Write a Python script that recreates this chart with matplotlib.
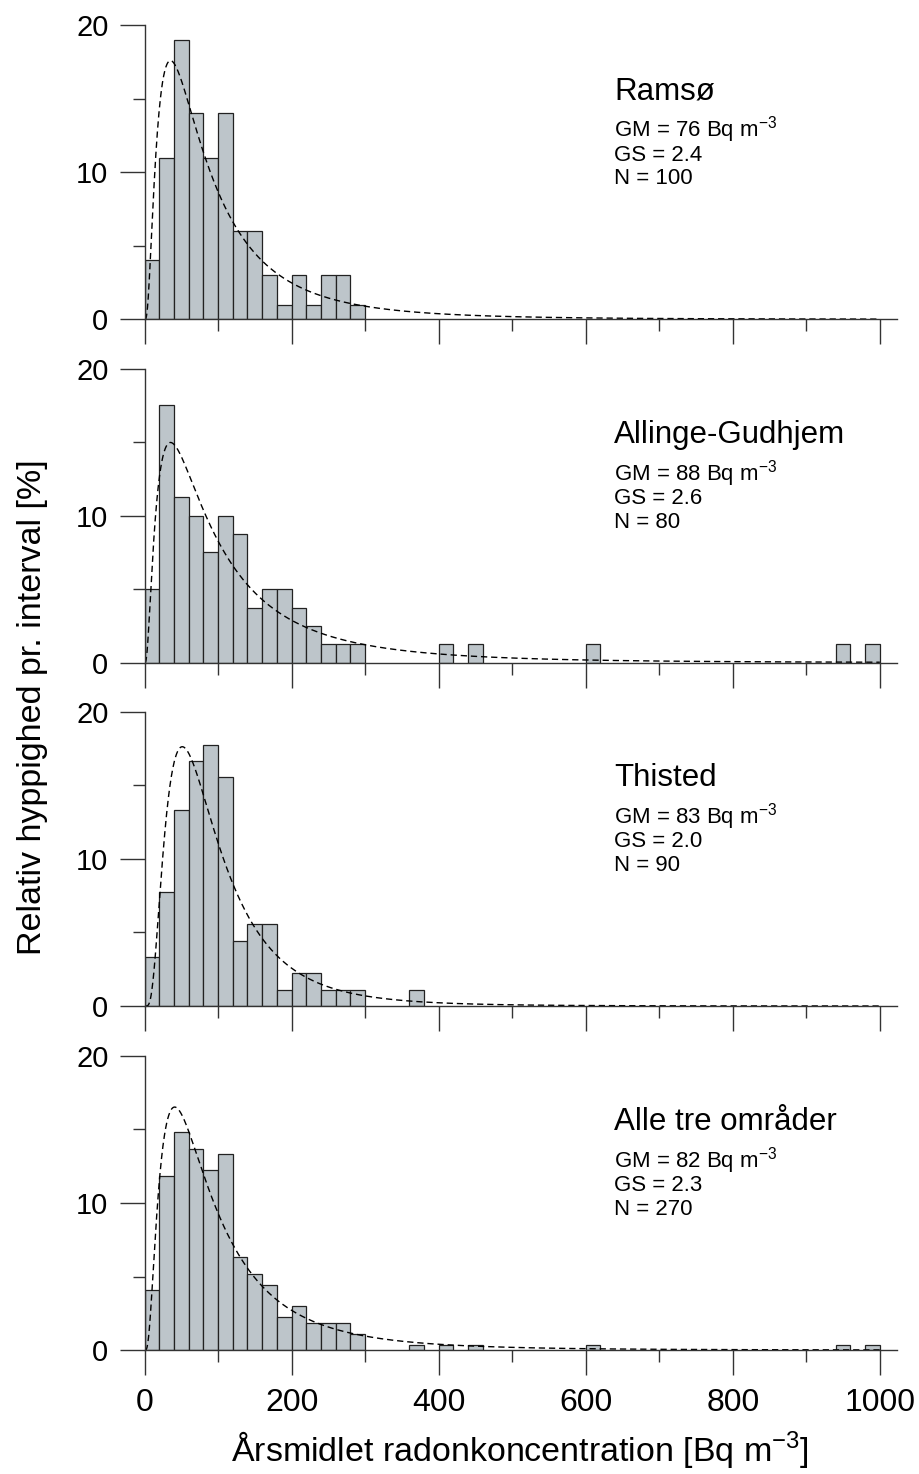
import numpy as np
import matplotlib
matplotlib.use('Agg')
import matplotlib.pyplot as plt

plt.rcParams['font.family'] = ['Liberation Sans', 'DejaVu Sans']
plt.rcParams['mathtext.default'] = 'regular'

# --- Data: antal huse pr. 20 Bq/m3 interval (venstre kant af intervallet) ---
bin_left = [0, 20, 40, 60, 80, 100, 120, 140, 160, 180, 200, 220, 240, 260, 280,
            360, 400, 440, 600, 940, 980]
ramsoe_n = [4, 11, 19, 14, 11, 14, 6, 6, 3, 1, 3, 1, 3, 3, 1, 0, 0, 0, 0, 0, 0]
allinge_n = [4, 14, 9, 8, 6, 8, 7, 3, 4, 4, 3, 2, 1, 1, 1, 0, 1, 1, 1, 1, 1]
thisted_n = [3, 7, 12, 15, 16, 14, 4, 5, 5, 1, 2, 2, 1, 1, 1, 1, 0, 0, 0, 0, 0]
alle_n = [11, 32, 40, 37, 33, 36, 17, 14, 12, 6, 8, 5, 5, 5, 3, 1, 1, 1, 1, 1, 1]

names = ['Ramsø', 'Allinge-Gudhjem', 'Thisted', 'Alle tre områder']
gm_values = [76, 88, 83, 82]
gs_values = ['2.4', '2.6', '2.0', '2.3']
n_values = [100, 80, 90, 270]
all_counts = [ramsoe_n, allinge_n, thisted_n, alle_n]

bar_color = '#bdc5ca'

fig = plt.figure(figsize=(9.2, 14.74), dpi=100)
bottoms = [0.7834, 0.5504, 0.3175, 0.0841]
x = np.linspace(0.5, 1000, 2000)

for i in range(4):
    ax = fig.add_axes([0.1571, bottoms[i], 0.8176, 0.1995])
    pct = np.array(all_counts[i]) / n_values[i] * 100
    mask = pct > 0
    ax.bar(np.array(bin_left)[mask], pct[mask], width=20, align='edge',
           color=bar_color, edgecolor='#222222', linewidth=0.9)

    # log-normal fordeling ud fra GM og GS (skaleret til % pr. 20-interval)
    sigma = np.log(float(gs_values[i]))
    mu = np.log(gm_values[i])
    dens = np.exp(-(np.log(x) - mu) ** 2 / (2 * sigma ** 2)) / (x * sigma * np.sqrt(2 * np.pi))
    ax.plot(x, dens * 20 * 100, color='black', lw=1.0, dashes=(4.5, 2.8))

    ax.set_xlim(0, 1023)
    ax.set_ylim(0, 20)
    for s in ['top', 'right']:
        ax.spines[s].set_visible(False)
    for s in ['left', 'bottom']:
        ax.spines[s].set_linewidth(1.0)
        ax.spines[s].set_color('#333333')

    ax.set_xticks(range(0, 1001, 200))
    ax.set_xticks(range(100, 1000, 200), minor=True)
    ax.set_yticks([0, 10, 20])
    ax.set_yticks([5, 15], minor=True)
    ax.tick_params(which='major', length=18, width=1.0, color='#333333')
    ax.tick_params(which='minor', length=8.8, width=1.0, color='#333333')
    ax.tick_params(axis='y', labelsize=21, pad=8)
    if i < 3:
        ax.tick_params(axis='x', labelbottom=False)
    else:
        ax.tick_params(axis='x', labelsize=23, pad=9)

    ax.text(639, 14.97, names[i], fontsize=22.5)
    ax.text(639, 12.42, 'GM = %d Bq m$^{-3}$' % gm_values[i], fontsize=16)
    ax.text(639, 10.79, 'GS = ' + gs_values[i], fontsize=16)
    ax.text(639, 9.18, 'N = %d' % n_values[i], fontsize=16)

fig.text(33 / 920, 0.52, 'Relativ hyppighed pr. interval [%]', rotation=90,
         ha='center', va='center', fontsize=24.5)
fig.text(520 / 920, 1 - 1450 / 1474, 'Årsmidlet radonkoncentration [Bq m$^{-3}$]',
         ha='center', va='center', fontsize=24.5)

fig.savefig('out.png', dpi=100)
